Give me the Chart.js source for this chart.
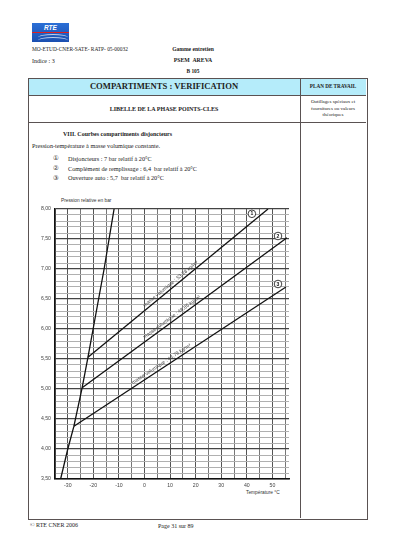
<!DOCTYPE html>
<html>
<head>
<meta charset="utf-8">
<script src="https://cdn.jsdelivr.net/npm/chart.js@4.4.1/dist/chart.umd.min.js"></script>
<style>
  body { margin: 0; background: #fff; width: 394px; height: 557px; position: relative; overflow: hidden; font-family: "Liberation Serif", serif; color: #222; }
  .t { position: absolute; white-space: nowrap; line-height: 1; }
  .c { transform: translateX(-50%); text-align: center; }
  .b { font-weight: bold; }
  .box { position: absolute; border: 0 solid #5a5252; }
  #logo { position: absolute; left: 32px; top: 23px; width: 37px; height: 19px; background: linear-gradient(#2b6fd6, #1b4fb0); overflow: hidden; }
  #logo .red { position: absolute; left: 0; top: 9px; width: 37px; height: 1px; background: #e02020; }
  #logo .txt { position: absolute; left: 0; width: 37px; top: 1px; text-align: center; color: #fff; font: italic bold 6.5px "Liberation Sans", sans-serif; }
  #logo .sw { position: absolute; left: 6px; width: 30px; height: 6px; border-top: 1px solid rgba(255,255,255,0.7); border-radius: 50% 50% 0 0; }
  canvas { position: absolute; left: 30px; top: 196px; }
  .ax { font-family: "Liberation Sans", sans-serif; color: #333; font-size: 4.8px; }
</style>
</head>
<body>
<div id="logo"><div class="txt">RTE</div><div class="red"></div><div class="sw" style="top:11px"></div><div class="sw" style="top:14px"></div></div>

<div class="t" style="left:32px;top:47px;font-size:5.4px">MO-ETUD-CNER-SATE- RATP- 05-00032</div>
<div class="t c b" style="left:193px;top:47px;font-size:5.6px">Gamme entretien</div>
<div class="t" style="left:32px;top:58px;font-size:6px">Indice : 3</div>
<div class="t c b" style="left:193px;top:58px;font-size:5.8px">PSEM&nbsp; AREVA</div>
<div class="t c b" style="left:193px;top:69px;font-size:5.4px">B 105</div>

<!-- table -->
<div class="box" style="left:28px;top:78px;width:338px;height:17px;background:#b5ecfa;"></div>
<div class="box" style="left:28px;top:78px;width:338px;height:440px;border-width:1px;"></div>
<div class="box" style="left:300px;top:78px;width:0;height:440px;border-left-width:1px;"></div>
<div class="box" style="left:28px;top:95px;width:338px;height:0;border-top-width:1px;"></div>
<div class="box" style="left:28px;top:122px;width:338px;height:0;border-top-width:1px;"></div>

<div class="t c b" style="left:164px;top:82px;font-size:8.6px">COMPARTIMENTS : VERIFICATION</div>
<div class="t c b" style="left:333px;top:84px;font-size:5.2px">PLAN DE TRAVAIL</div>
<div class="t c b" style="left:164px;top:106px;font-size:6px">LIBELLE DE LA PHASE POINTS-CLES</div>
<div class="t c" style="left:333px;top:99px;font-size:5px;line-height:6.6px">Outillages spéciaux et<br>fournitures ou valeurs<br>théoriques</div>

<div class="t b" style="left:63px;top:131px;font-size:6px">VIII. Courbes compartiments disjoncteurs</div>
<div class="t" style="left:32px;top:143px;font-size:6.2px">Pression-température à masse volumique constante.</div>
<div class="t" style="left:53px;top:155px;font-size:6.4px;font-family:'DejaVu Sans'">①</div>
<div class="t" style="left:68px;top:156px;font-size:6.2px">Disjoncteurs : 7 bar relatif à 20°C</div>
<div class="t" style="left:53px;top:165px;font-size:6.4px;font-family:'DejaVu Sans'">②</div>
<div class="t" style="left:68px;top:166px;font-size:6.2px">Complément de remplissage : 6,4&nbsp; bar relatif à 20°C</div>
<div class="t" style="left:53px;top:175px;font-size:6.4px;font-family:'DejaVu Sans'">③</div>
<div class="t" style="left:68px;top:175px;font-size:6.2px">Ouverture auto : 5,7&nbsp; bar relatif à 20°C</div>

<div class="t ax" style="left:61px;top:199px">Pression relative en bar</div>
<div class="t ax" style="left:246px;top:491px">Température °C</div>

<canvas id="chart" width="264" height="306"></canvas>

<div class="t" style="left:30px;top:522px;font-size:6px">© RTE CNER 2006</div>
<div class="t" style="left:158px;top:523px;font-size:6px">Page 31 sur 89</div>

<script>
// saturation curve (steep line)
const satT = [-32.8, -30.0, -27.6, -24.4, -22.1, -20.1, -15.8, -11.9];
const satP = [3.5, 4.0, 4.38, 5.02, 5.53, 6.0, 7.0, 8.0];

// constant density lines: start (on saturation curve) and end points
const line1T = [-22.1, 48.3];
const line1P = [5.53, 8.0];
const line2T = [-24.4, 55.7];
const line2P = [5.02, 7.52];
const line3T = [-27.6, 55.3];
const line3P = [4.38, 6.70];

const lineLabels = ['masse volumique : 53,28 kg/m³', 'masse volumique : 48,85 kg/m³', 'masse volumique : 43,79 kg/m³'];
const lineLabelT = [11.2, 11.6, 7.4];

const markerText = ['1', '2', '3'];
const markerT = [42.0, 52.2, 52.2];
const markerP = [7.92, 7.55, 6.75];

const xTicks = [-35, -30, -25, -20, -15, -10, -5, 0, 5, 10, 15, 20, 25, 30, 35, 40, 45, 50, 55];
const yTicks = [];
for (let i = 35; i <= 80; i++) yTicks.push(i / 10);

const toPoints = (ts, ps) => ts.map((t, i) => ({ x: t, y: ps[i] }));
const isHalf = (v) => Math.abs(v * 2 - Math.round(v * 2)) < 1e-6;

Chart.defaults.font.family = "'Liberation Sans', sans-serif";

const lineStyle = { showLine: true, pointRadius: 0, borderColor: '#111', borderWidth: 1.3, fill: false };

const labelPlugin = {
  id: 'labels',
  afterDatasetsDraw(chart) {
    const { ctx } = chart;
    const xs = chart.scales.x, ys = chart.scales.y;
    ctx.save();
    // labels along the constant density lines
    [1, 2, 3].forEach((di, i) => {
      const d = chart.data.datasets[di].data;
      const x1 = xs.getPixelForValue(d[0].x), y1 = ys.getPixelForValue(d[0].y);
      const x2 = xs.getPixelForValue(d[1].x), y2 = ys.getPixelForValue(d[1].y);
      const ang = Math.atan2(y2 - y1, x2 - x1);
      const f = (lineLabelT[i] - d[0].x) / (d[1].x - d[0].x);
      const px = x1 + f * (x2 - x1), py = y1 + f * (y2 - y1);
      ctx.save();
      ctx.translate(px, py);
      ctx.rotate(ang);
      ctx.fillStyle = '#444';
      ctx.font = "5px 'Liberation Sans', sans-serif";
      ctx.textAlign = 'center';
      ctx.textBaseline = 'bottom';
      ctx.fillText(lineLabels[i], 0, -1.5);
      ctx.restore();
    });
    // circled numbers
    markerText.forEach((txt, i) => {
      const px = xs.getPixelForValue(markerT[i]), py = ys.getPixelForValue(markerP[i]);
      ctx.beginPath();
      ctx.arc(px, py, 3.8, 0, Math.PI * 2);
      ctx.fillStyle = '#fff';
      ctx.fill();
      ctx.lineWidth = 0.8;
      ctx.strokeStyle = '#111';
      ctx.stroke();
      ctx.fillStyle = '#111';
      ctx.font = "bold 5px 'Liberation Sans', sans-serif";
      ctx.textAlign = 'center';
      ctx.textBaseline = 'middle';
      ctx.fillText(txt, px, py + 0.3);
    });
    ctx.restore();
  }
};

new Chart(document.getElementById('chart'), {
  type: 'scatter',
  data: {
    datasets: [
      { ...lineStyle, data: toPoints(satT, satP) },
      { ...lineStyle, data: toPoints(line1T, line1P) },
      { ...lineStyle, data: toPoints(line2T, line2P) },
      { ...lineStyle, data: toPoints(line3T, line3P) }
    ]
  },
  options: {
    responsive: false,
    animation: false,
    devicePixelRatio: 1,
    layout: { padding: { top: 13, right: 5, left: 0, bottom: 0 } },
    plugins: { legend: { display: false }, tooltip: { enabled: false } },
    scales: {
      x: {
        type: 'linear',
        min: -35,
        max: 56.5,
        afterBuildTicks: (scale) => { scale.ticks = xTicks.map(v => ({ value: v })); },
        afterFit: (scale) => { scale.height = 23; },
        ticks: {
          autoSkip: false,
          maxRotation: 0,
          padding: 3,
          color: '#444',
          font: { size: 5.2 },
          callback: (v) => (v % 10 === 0 ? String(v) : '')
        },
        grid: {
          drawTicks: false,
          color: (c) => (c.tick && c.tick.value % 10 === 0 ? '#555' : '#777'),
          lineWidth: 1
        },
        border: { color: '#111', width: 1.5 }
      },
      y: {
        type: 'linear',
        min: 3.5,
        max: 8.0,
        afterBuildTicks: (scale) => { scale.ticks = yTicks.map(v => ({ value: v })); },
        afterFit: (scale) => { scale.width = 25; },
        ticks: {
          autoSkip: false,
          padding: 4,
          color: '#444',
          font: { size: 5.2 },
          callback: (v) => (isHalf(v) ? v.toFixed(2).replace('.', ',') : '')
        },
        grid: {
          drawTicks: false,
          color: (c) => (c.tick && isHalf(c.tick.value) ? '#444' : '#b0b0b0'),
          lineWidth: (c) => (c.tick && isHalf(c.tick.value) ? 1.3 : 1)
        },
        border: { color: '#111', width: 1.5 }
      }
    }
  },
  plugins: [labelPlugin]
});
</script>
</body>
</html>
